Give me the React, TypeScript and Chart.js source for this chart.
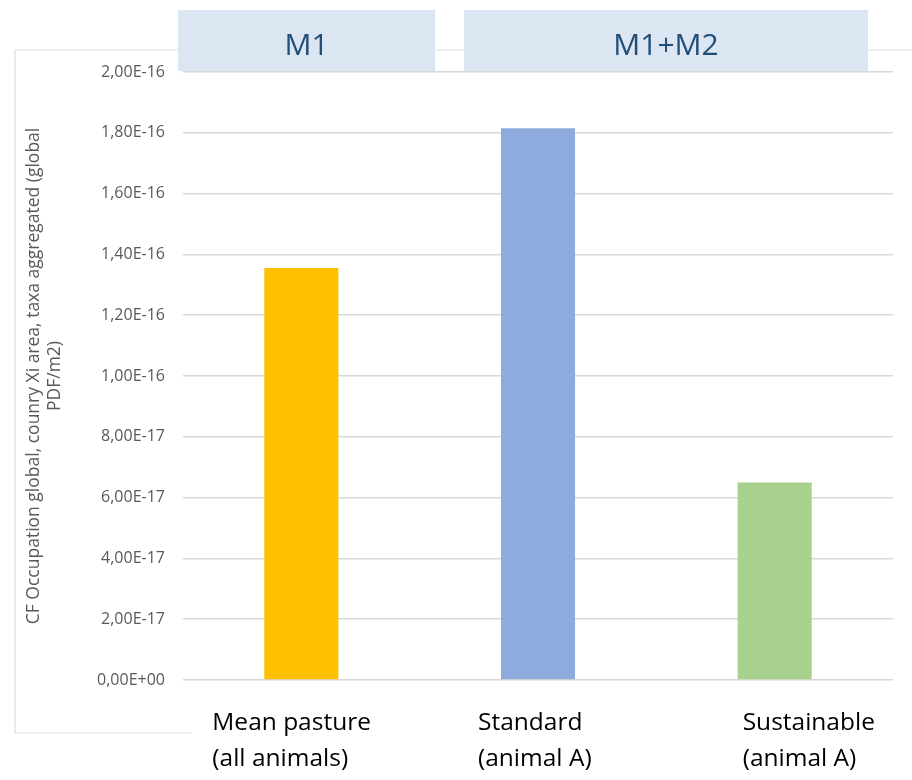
import React, { useEffect, useRef } from "react";
import { Chart, registerables } from "chart.js";

Chart.register(...registerables);

// ---- data ----
const CATEGORIES: string[][] = [
  ["Mean pasture", "(all animals)"],
  ["Standard", "(animal A)"],
  ["Sustainable", "(animal A)"],
];
const VALUES: number[] = [1.355e-16, 1.815e-16, 6.5e-17];
const Y_TICK_LABELS: string[] = [
  "0,00E+00",
  "2,00E-17",
  "4,00E-17",
  "6,00E-17",
  "8,00E-17",
  "1,00E-16",
  "1,20E-16",
  "1,40E-16",
  "1,60E-16",
  "1,80E-16",
  "2,00E-16",
];
const Y_TITLE: string[] = [
  "CF Occupation global, counry Xi area, taxa aggregated (global",
  "PDF/m2)",
];
const GROUP_LABELS: string[] = ["M1", "M1+M2"];

// ---- styles ----
const BAR_COLORS = ["#FFC000", "#8FAADC", "#A9D18E"];
const GRID_COLOR = "#D9D9D9";
const TICK_COLOR = "#595959";
const FONT = "'Open Sans', sans-serif";
const GROUP_BOXES = [
  { x0: 178, x1: 435, y0: 10, y1: 71 },
  { x0: 464, x1: 868, y0: 10, y1: 71 },
];
const LABEL_SHIFT = [-89, -60, -32];

function fmt(v: number): string {
  const [m, e] = v.toExponential(2).split("e");
  const n = parseInt(e, 10);
  return m.replace(".", ",") + "E" + (n < 0 ? "-" : "+") + String(Math.abs(n)).padStart(2, "0");
}

const decorPlugin = {
  id: "decor",
  beforeDraw(chart: any) {
    const ctx = chart.ctx;
    ctx.save();
    ctx.strokeStyle = "#DDDDDD";
    ctx.lineWidth = 1.2;
    ctx.beginPath();
    ctx.moveTo(912, 50);
    ctx.lineTo(15, 50);
    ctx.lineTo(15, 733);
    ctx.lineTo(192, 733);
    ctx.stroke();
    ctx.restore();
  },
  afterDraw(chart: any) {
    const ctx = chart.ctx;
    ctx.save();
    // group header boxes
    GROUP_BOXES.forEach((b, i) => {
      ctx.fillStyle = "#DCE6F2";
      ctx.fillRect(b.x0, b.y0, b.x1 - b.x0, b.y1 - b.y0);
      ctx.fillStyle = "#1F4E79";
      ctx.font = `30px ${FONT}`;
      ctx.textAlign = "center";
      ctx.textBaseline = "alphabetic";
      ctx.fillText(GROUP_LABELS[i], (b.x0 + b.x1) / 2, 55);
    });
    // category labels
    const xs = chart.scales.x;
    ctx.fillStyle = "#000000";
    ctx.font = `24.5px ${FONT}`;
    ctx.textAlign = "left";
    ctx.textBaseline = "alphabetic";
    CATEGORIES.forEach((lines, i) => {
      const x = xs.getPixelForValue(i) + LABEL_SHIFT[i];
      lines.forEach((t, j) => {
        ctx.fillText(t, x, 730 + j * 36);
      });
    });
    ctx.restore();
  },
};

export default function App() {
  const ref = useRef<HTMLCanvasElement | null>(null);
  useEffect(() => {
    document.body.style.margin = "0";
    const canvas = ref.current!;
    const chart = new Chart(canvas, {
      type: "bar",
      data: {
        labels: CATEGORIES,
        datasets: [
          {
            data: VALUES,
            backgroundColor: BAR_COLORS,
            borderWidth: 0,
            barPercentage: 0.313,
            categoryPercentage: 1,
          },
        ],
      },
      options: {
        responsive: false,
        animation: false,
        devicePixelRatio: 1,
        layout: { padding: { left: 15, right: 19, top: 72, bottom: 100 } },
        plugins: {
          legend: { display: false },
          tooltip: { enabled: false },
        },
        scales: {
          x: { display: false },
          y: {
            min: 0,
            max: 2e-16,
            afterFit: (s: any) => {
              s.width = 168;
            },
            ticks: {
              stepSize: 2e-17,
              padding: 18,
              color: TICK_COLOR,
              font: { family: FONT, size: 16 },
              callback: (v: any, i: number) => Y_TICK_LABELS[i] ?? fmt(Number(v)),
            },
            grid: { color: GRID_COLOR, lineWidth: 1.5, drawTicks: false, tickLength: 0 },
            border: { display: false },
            title: {
              display: true,
              text: Y_TITLE,
              color: TICK_COLOR,
              font: { family: FONT, size: 17.5, lineHeight: 1.2 },
              padding: { top: 9, bottom: 0 },
            },
          },
        },
      },
      plugins: [decorPlugin],
    });
    return () => chart.destroy();
  }, []);
  return (
    <div style={{ width: 912, height: 780, position: "relative", background: "#fff" }}>
      <canvas ref={ref} width={912} height={780} style={{ width: 912, height: 780, display: "block" }} />
    </div>
  );
}
